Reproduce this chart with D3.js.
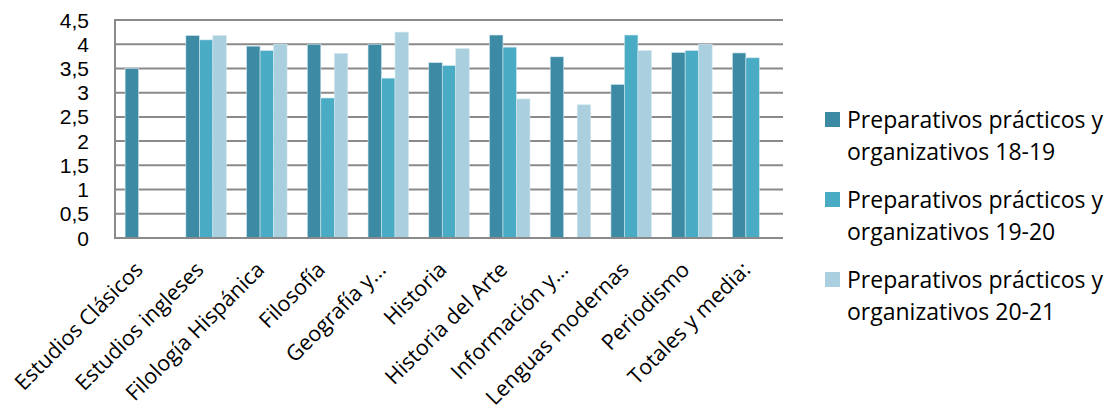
<!DOCTYPE html>
<html><head><meta charset="utf-8">
<script src="https://cdn.jsdelivr.net/npm/d3@7"></script>
<style>body{margin:0;background:#fff}svg{display:block}</style>
</head><body>
<svg id="c" width="1111" height="419"></svg>
<script>
const categories = ["Estudios Clásicos","Estudios ingleses","Filología Hispánica","Filosofía","Geografía y...","Historia","Historia del Arte","Información y...","Lenguas modernas","Periodismo","Totales y media:"];
const seriesNames = ["Preparativos prácticos y organizativos 18-19","Preparativos prácticos y organizativos 19-20","Preparativos prácticos y organizativos 20-21"];
const s1819 = [3.50,4.18,3.96,4.00,4.00,3.62,4.19,3.74,3.17,3.83,3.82];
const s1920 = [null,4.09,3.87,2.89,3.30,3.56,3.94,null,4.19,3.87,3.72];
const s2021 = [null,4.18,4.00,3.81,4.25,3.91,2.87,2.75,3.87,4.00,null];
const yTicks = [0,0.5,1,1.5,2,2.5,3,3.5,4,4.5];
const colors = ["#3C8AA3","#4AABC5","#AACFDE"];

const series = [s1819,s1920,s2021];
const svg = d3.select("#c");
const font = "'Open Sans', 'Noto Sans', sans-serif";
const fs = 23;
const m = {l:115, r:783, t:20, b:238};
const x = d3.scaleBand().domain(categories).range([m.l,m.r]).paddingInner(0).paddingOuter(0);
const y = d3.scaleLinear().domain([0,4.5]).range([m.b,m.t]);
const bw = x.bandwidth()/4.5;
const x1 = d3.scaleBand().domain([0,1,2]).range([0,bw*3]);

// gridlines
svg.append("g").selectAll("line").data(yTicks.filter(d=>d>0)).join("line")
  .attr("x1",m.l).attr("x2",m.r).attr("y1",d=>y(d)).attr("y2",d=>y(d))
  .attr("stroke","#8a8a8a").attr("stroke-width",2);

// bars
series.forEach((vals,si)=>{
  svg.append("g").selectAll("rect").data(categories.map((c,i)=>({c,v:vals[i]})).filter(d=>d.v!=null)).join("rect")
    .attr("x",d=>x(d.c)+bw*0.75+x1(si))
    .attr("y",d=>y(d.v))
    .attr("width",x1.bandwidth())
    .attr("height",d=>y(0)-y(d.v))
    .attr("fill",colors[si])
    .attr("stroke","#d4e8ef").attr("stroke-width",0.6);
});

// axes lines
svg.append("line").attr("x1",m.l).attr("x2",m.l).attr("y1",m.t-1).attr("y2",m.b+1).attr("stroke","#8a8a8a").attr("stroke-width",2);
svg.append("line").attr("x1",m.l-1).attr("x2",m.r).attr("y1",m.b).attr("y2",m.b).attr("stroke","#8a8a8a").attr("stroke-width",2);

// y labels
svg.append("g").selectAll("text").data(yTicks).join("text")
  .attr("x",89).attr("y",d=>y(d)).attr("dy","0.36em")
  .attr("text-anchor","end").attr("font-family","'Liberation Sans', Arial, sans-serif").attr("font-size",21).attr("fill","#000")
  .text(d=>String(d).replace(".",","));

// x labels
svg.append("g").selectAll("text").data(categories).join("text")
  .attr("transform",d=>`translate(${x(d)+x.bandwidth()/2-1},${271}) rotate(-45)`)
  .attr("text-anchor","end")
  .attr("font-family",font).attr("font-size",21.5).attr("fill","#000")
  .text(d=>d);

// legend
const lg = svg.append("g");
seriesNames.forEach((n,i)=>{
  const y0 = 112 + i*80;
  lg.append("rect").attr("x",825).attr("y",y0).attr("width",15).attr("height",15).attr("fill",colors[i]);
  const parts = n.split(" y ");
  const t = lg.append("text").attr("font-family",font).attr("font-size",fs).attr("fill","#000");
  t.append("tspan").attr("x",847).attr("y",y0+16).text(parts[0]+" y");
  t.append("tspan").attr("x",847).attr("y",y0+48).text(parts[1]);
});
</script>
</body></html>
